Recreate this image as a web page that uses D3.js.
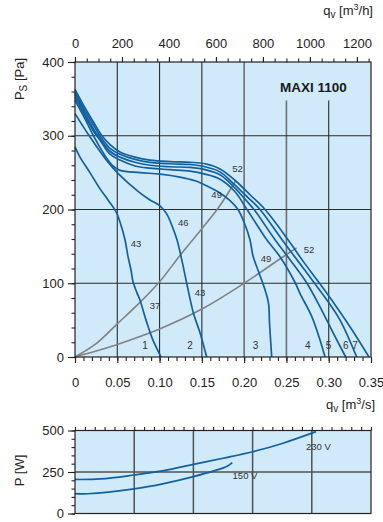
<!DOCTYPE html>
<html><head><meta charset="utf-8">
<script src="https://cdn.jsdelivr.net/npm/d3@7"></script>
<style>
body{margin:0;background:#fff;}
svg{display:block;font-family:"Liberation Sans",Arial,Helvetica,sans-serif;}
</style>
</head><body>
<svg id="c" width="383" height="522"></svg>
<script>
// ---------- data ----------
const curveNames = ["1","2","3","4","5","6","7"];
const fanQ1 = [0,0.0059,0.0177,0.0296,0.039,0.0485,0.0532,0.0591,0.0627,0.0662,0.0686,0.0733,0.0769,0.084,0.0911,0.1017];
const fanP1 = [285,271,250,228,213,197,183,159,136,118,102,87,77,50,26,0];
const fanQ2 = [0,0.0162,0.0358,0.0517,0.0753,0.0887,0.1005,0.1084,0.1147,0.1206,0.1262,0.1321,0.1399,0.1478,0.1557];
const fanP2 = [330,301,269,248,224,213,205,194,178,159,132,100,60,33,0];
const fanQ3 = [0,0.0118,0.0237,0.0355,0.0449,0.0532,0.0769,0.1005,0.1242,0.1419,0.1561,0.1691,0.1833,0.1927,0.1998,0.2069,0.2105,0.2176,0.2247,0.2288,0.2300,0.2326];
const fanP3 = [348,323,296,273,259,253,250,248,244,239,232,224,212,200,183,159,137,114,91,73,46,0];
const fanQ4 = [0,0.0118,0.0237,0.0296,0.0414,0.0532,0.0710,0.0887,0.1123,0.1360,0.1537,0.1715,0.1892,0.2034,0.2152,0.2267,0.2424,0.2602,0.2661,0.2799,0.2897,0.2956];
const fanP4 = [352,327,303,294,275,267,259,256,254,252,248,241,224,200,179,159,136,101,86,55,23,0];
const fanQ5 = [0,0.0118,0.0237,0.0284,0.0414,0.0532,0.0710,0.0887,0.1123,0.1360,0.1537,0.1715,0.1892,0.2010,0.2117,0.2365,0.2542,0.2737,0.2897,0.3051,0.3201];
const fanP5 = [356,330,306,298,279,271,264,260,258,257,254,247,229,214,200,159,132,101,68,33,0];
const fanQ6 = [0,0.0118,0.0237,0.0307,0.0414,0.0532,0.0710,0.0887,0.1123,0.1360,0.1537,0.1715,0.1892,0.2046,0.2188,0.2448,0.2637,0.2826,0.2980,0.3134,0.3331];
const fanP6 = [359,334,311,298,283,275,268,264,262,261,258,251,233,216,200,159,130,101,77,50,0];
const fanQ7 = [0,0.0118,0.0237,0.0319,0.0414,0.0532,0.0710,0.0887,0.1123,0.1360,0.1537,0.1715,0.1898,0.2069,0.2247,0.2519,0.2696,0.2885,0.3074,0.3275,0.3476];
const fanP7 = [363,338,315,300,288,278,271,267,265,264,262,255,239,220,200,159,130,101,71,37,0];
const curveLabelQ = [0.0828,0.136,0.2136,0.2752,0.2999,0.3201,0.3311];
const curveLabelP = [16,16,16,16,16,16,16];

const sysSteepQ = [0,0.025,0.05,0.075,0.1,0.125,0.15,0.17,0.19];
const sysSteepP = [0,18,45,72,102,139,174,203,239];
const sysFlatQ = [0,0.025,0.05,0.1,0.15,0.2,0.25,0.262];
const sysFlatP = [0,8,17,38,65,100,139,148];

const effLabels = ["52","49","46","43","37","43","49","52"];
const effQ = [0.1922,0.1675,0.1281,0.0721,0.0946,0.1478,0.2258,0.2767];
const effP = [256,220,182,154,70,87,133,146];

const pw230Q = [0,0.03,0.07,0.105,0.14,0.175,0.21,0.245,0.285];
const pw230P = [205,208,232,258,296,333,372,422,493];
const pw150Q = [0,0.015,0.07,0.105,0.14,0.165,0.18,0.186];
const pw150P = [120,119,148,180,222,258,285,306];
const powerLabels = ["230 V","150 V"];
const powerLabelQ = [0.2877,0.201];
const powerLabelP = [402,228];

const qTicks = [0,0.05,0.1,0.15,0.2,0.25,0.3,0.35];
const qhTicks = [0,200,400,600,800,1000,1200];
const pTicks = [0,100,200,300,400];
const wTicks = [0,250,500];
const powerGridQ = [0.07,0.14,0.21,0.28];
const title = "MAXI 1100";

// ---------- drawing ----------
const BG = "#d0eafa", BLUE = "#12609f", GREY = "#828282", DARK = "#222";
const svg = d3.select("#c");
const x = d3.scaleLinear().domain([0,0.35]).range([75,371]);
const xh = d3.scaleLinear().domain([0,1260]).range([75,371]);
const y = d3.scaleLinear().domain([0,400]).range([357,62]);
const y2 = d3.scaleLinear().domain([0,500]).range([513.5,430.5]);

// backgrounds
svg.append("rect").attr("x",x(0)).attr("y",y(400)).attr("width",x(0.35)-x(0)).attr("height",y(0)-y(400)).attr("fill",BG);
svg.append("rect").attr("x",x(0)).attr("y",y2(500)).attr("width",x(0.35)-x(0)).attr("height",y2(0)-y2(500)).attr("fill",BG);

// main gridlines
const gq = qTicks.slice(1,-1);
svg.append("g").selectAll("line").data(gq).join("line")
  .attr("x1",d=>x(d)).attr("x2",d=>x(d)).attr("y1",y(400)).attr("y2",y(0))
  .attr("stroke",d=>(Math.abs(d-0.2)<1e-9||Math.abs(d-0.25)<1e-9)?"#6f6f6f":"#2b2b2b")
  .attr("stroke-width",d=>(Math.abs(d-0.2)<1e-9||Math.abs(d-0.25)<1e-9)?1.6:1.1);
svg.append("g").selectAll("line").data(pTicks.slice(1,-1)).join("line")
  .attr("x1",x(0)).attr("x2",x(0.35)).attr("y1",d=>y(d)).attr("y2",d=>y(d))
  .attr("stroke","#2b2b2b").attr("stroke-width",1.1);

// title patch
svg.append("rect").attr("x",268).attr("y",y(400)+0.5).attr("width",96).attr("height",38).attr("fill",BG);
svg.append("text").attr("x",280).attr("y",91.5).attr("font-size",13.5).attr("font-weight","bold").attr("fill","#1a1a1a").text(title);

// system curves
const line = d3.line().x(d=>x(d[0])).y(d=>y(d[1])).curve(d3.curveCatmullRom.alpha(0.5));
[[sysSteepQ,sysSteepP],[sysFlatQ,sysFlatP]].forEach(([qs,ps])=>{
  svg.append("path").attr("d",line(qs.map((q,i)=>[q,ps[i]]))).attr("fill","none").attr("stroke",GREY).attr("stroke-width",1.6);
});

// fan curves
const fans = [[fanQ1,fanP1],[fanQ2,fanP2],[fanQ3,fanP3],[fanQ4,fanP4],[fanQ5,fanP5],[fanQ6,fanP6],[fanQ7,fanP7]];
fans.forEach(([qs,ps])=>{
  svg.append("path").attr("d",line(qs.map((q,i)=>[q,ps[i]]))).attr("fill","none").attr("stroke",BLUE).attr("stroke-width",1.7);
});

// labels in chart
svg.append("g").selectAll("text").data(effLabels).join("text")
  .attr("x",(d,i)=>x(effQ[i])).attr("y",(d,i)=>y(effP[i])).attr("text-anchor","middle").attr("dominant-baseline","central")
  .attr("font-size",9.5).attr("fill","#333").text(d=>d);
svg.append("g").selectAll("text").data(curveNames).join("text")
  .attr("x",(d,i)=>x(curveLabelQ[i])).attr("y",(d,i)=>y(curveLabelP[i])).attr("text-anchor","middle").attr("dominant-baseline","central")
  .attr("font-size",10).attr("fill","#333").text(d=>d);

// border
svg.append("rect").attr("x",x(0)).attr("y",y(400)).attr("width",x(0.35)-x(0)).attr("height",y(0)-y(400))
  .attr("fill","none").attr("stroke",DARK).attr("stroke-width",1.2);

function styleAxis(g){ g.select(".domain").remove(); g.selectAll("line").attr("stroke",DARK).attr("stroke-width",1.1); g.selectAll("text").attr("font-size",13).attr("fill","#222").attr("font-family",'"Liberation Sans",Arial,sans-serif'); }

// bottom axis
const minorQ = d3.range(0,36).map(i=>i/100);
svg.append("g").attr("transform",`translate(0,${y(0)})`).call(d3.axisBottom(x).tickValues(minorQ).tickSize(4).tickFormat("")).call(styleAxis);
svg.append("g").attr("transform",`translate(0,${y(0)})`)
  .call(d3.axisBottom(x).tickValues(qTicks).tickSize(6).tickFormat(d=>d===0?"0":d3.format(".2f")(d)))
  .call(styleAxis).call(g=>g.selectAll("text").attr("y",21));
// top axis (m3/h)
const minorQh = d3.range(0,1251,50);
svg.append("g").attr("transform",`translate(0,${y(400)})`).call(d3.axisTop(xh).tickValues(minorQh).tickSize(3.5).tickFormat("")).call(styleAxis);
svg.append("g").attr("transform",`translate(0,${y(400)})`)
  .call(d3.axisTop(xh).tickValues(qhTicks).tickSize(5).tickFormat(d3.format("d")))
  .call(styleAxis).call(g=>g.selectAll("text").attr("y",-14.5));
// left axis
svg.append("g").attr("transform",`translate(${x(0)},0)`).call(d3.axisLeft(y).tickValues(d3.range(0,401,20)).tickSize(3.5).tickFormat("")).call(styleAxis);
svg.append("g").attr("transform",`translate(${x(0)},0)`)
  .call(d3.axisLeft(y).tickValues(pTicks).tickSize(7).tickPadding(4).tickFormat(d3.format("d"))).call(styleAxis);

// axis titles
const t1 = svg.append("text").attr("x",373).attr("y",15).attr("text-anchor","end").attr("font-size",13).attr("fill","#222");
t1.append("tspan").text("q");
t1.append("tspan").attr("dy",3).attr("font-size",10).text("v");
t1.append("tspan").attr("dy",-3).text(" [m");
t1.append("tspan").attr("dy",-5).attr("font-size",9).text("3");
t1.append("tspan").attr("dy",5).text("/h]");

const t2 = svg.append("text").attr("x",326).attr("y",409).attr("font-size",13).attr("fill","#222");
t2.append("tspan").text("q");
t2.append("tspan").attr("dy",3).attr("font-size",10).text("v");
t2.append("tspan").attr("dy",-3).text(" [m");
t2.append("tspan").attr("dy",-5).attr("font-size",9).text("3");
t2.append("tspan").attr("dy",5).text("/s]");

const t3 = svg.append("text").attr("transform","translate(23.5,79) rotate(-90)").attr("text-anchor","middle").attr("font-size",13).attr("fill","#222");
t3.append("tspan").text("P");
t3.append("tspan").attr("dy",3).attr("font-size",10).text("S");
t3.append("tspan").attr("dy",-3).text(" [Pa]");

svg.append("text").attr("transform","translate(23.5,470.5) rotate(-90)").attr("text-anchor","middle").attr("font-size",13).attr("fill","#222").text("P [W]");

// ---------- power chart ----------
svg.append("g").selectAll("line").data(powerGridQ).join("line")
  .attr("x1",d=>x(d)).attr("x2",d=>x(d)).attr("y1",y2(500)).attr("y2",y2(0)).attr("stroke","#505050").attr("stroke-width",1.5);
svg.append("line").attr("x1",x(0)).attr("x2",x(0.35)).attr("y1",y2(250)).attr("y2",y2(250)).attr("stroke","#505050").attr("stroke-width",1.5);

const line2 = d3.line().x(d=>x(d[0])).y(d=>y2(d[1])).curve(d3.curveCatmullRom.alpha(0.5));
[[pw230Q,pw230P],[pw150Q,pw150P]].forEach(([qs,ps])=>{
  svg.append("path").attr("d",line2(qs.map((q,i)=>[q,ps[i]]))).attr("fill","none").attr("stroke",BLUE).attr("stroke-width",1.7);
});
svg.append("g").selectAll("text").data(powerLabels).join("text")
  .attr("x",(d,i)=>x(powerLabelQ[i])).attr("y",(d,i)=>y2(powerLabelP[i])).attr("text-anchor","middle").attr("dominant-baseline","central")
  .attr("font-size",9.5).attr("fill","#333").text(d=>d);

svg.append("rect").attr("x",x(0)).attr("y",y2(500)).attr("width",x(0.35)-x(0)).attr("height",y2(0)-y2(500))
  .attr("fill","none").attr("stroke",DARK).attr("stroke-width",1.2);

const minorPw = d3.range(0,31).map(i=>i*0.35/30);
svg.append("g").attr("transform",`translate(0,${y2(500)})`).call(d3.axisTop(x).tickValues(minorPw).tickSize(3.5).tickFormat("")).call(styleAxis);
svg.append("g").attr("transform",`translate(${x(0)},0)`).call(d3.axisLeft(y2).tickValues(d3.range(0,501,50)).tickSize(3.5).tickFormat("")).call(styleAxis);
svg.append("g").attr("transform",`translate(${x(0)},0)`)
  .call(d3.axisLeft(y2).tickValues(wTicks).tickSize(7).tickPadding(4).tickFormat(d3.format("d"))).call(styleAxis);
</script>
</body></html>
